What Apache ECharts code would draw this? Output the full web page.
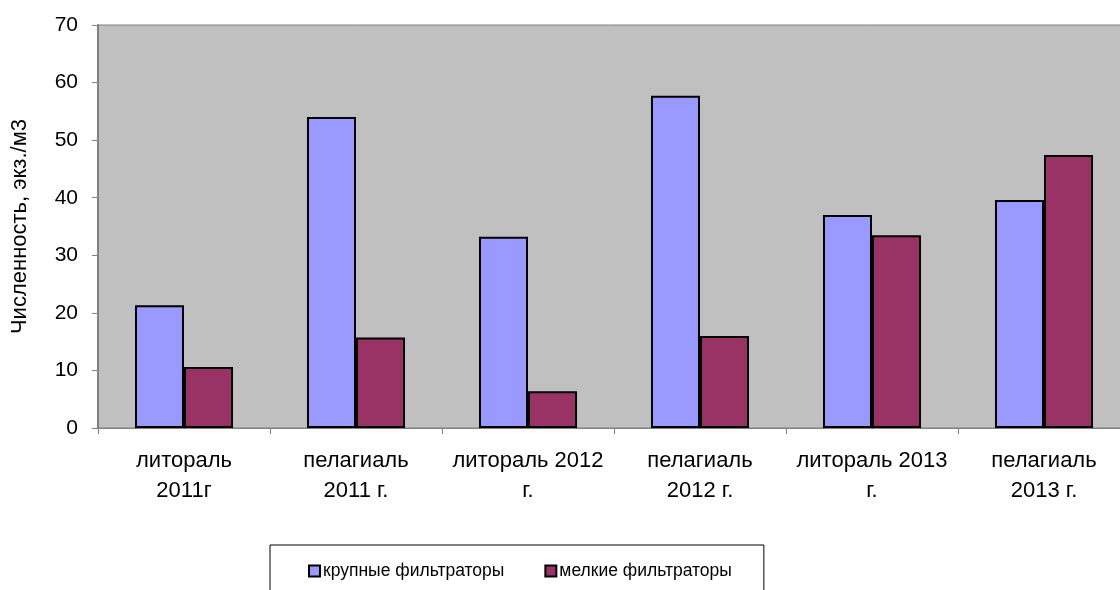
<!DOCTYPE html>
<html>
<head>
<meta charset="utf-8">
<script src="https://cdn.jsdelivr.net/npm/echarts@6/dist/echarts.min.js"></script>
<style>
  html, body { margin: 0; padding: 0; background: #fff; }
  #main { width: 1120px; height: 590px; }
</style>
</head>
<body>
<div id="main"></div>
<script>
// categories and values
var categories = ['литораль\n2011г', 'пелагиаль\n2011 г.', 'литораль 2012\nг.', 'пелагиаль\n2012 г.', 'литораль 2013\nг.', 'пелагиаль\n2013 г.'];
var largeFilter = [21.3, 54.0, 33.2, 57.7, 37.0, 39.6];
var smallFilter = [10.6, 15.7, 6.4, 16.0, 33.5, 47.4];
var seriesNames = ['крупные фильтраторы', 'мелкие фильтраторы'];

var chart = echarts.init(document.getElementById('main'));
var font = 'Liberation Sans, Arial, sans-serif';

var option = {
  animation: false,
  textStyle: { fontFamily: font },
  grid: {
    left: 98, top: 25, width: 1032, height: 403,
    containLabel: false, outerBoundsMode: 'none',
    show: true, backgroundColor: '#c0c0c0', borderColor: '#808080', borderWidth: 1
  },
  legend: {
    data: seriesNames,
    left: 270, top: 545,
    padding: [17, 32, 30, 38],
    itemGap: 40,
    icon: 'rect',
    itemWidth: 11, itemHeight: 11,
    itemStyle: { borderColor: '#000', borderWidth: 2 },
    borderColor: '#000', borderWidth: 1,
    textStyle: { fontSize: 17.5, color: '#000', fontFamily: font, padding: [0, 0, 0, -2] }
  },
  xAxis: {
    type: 'category',
    data: categories,
    axisLine: { lineStyle: { color: '#808080', width: 1 } },
    axisTick: { show: true, length: 6, lineStyle: { color: '#808080' } },
    axisLabel: { fontSize: 22, color: '#000', margin: 18, lineHeight: 30, fontFamily: font, interval: 0 },
    splitLine: { show: false }
  },
  yAxis: {
    type: 'value',
    min: 0, max: 70, interval: 10,
    name: 'Численность, экз./м3',
    nameLocation: 'middle',
    nameGap: 67,
    nameTextStyle: { fontSize: 22, color: '#000', fontFamily: font },
    axisLine: { show: true, lineStyle: { color: '#808080', width: 2 } },
    axisTick: { show: true, length: 6, lineStyle: { color: '#808080' } },
    axisLabel: { fontSize: 21, color: '#000', margin: 20, fontFamily: font },
    splitLine: { show: false }
  },
  series: [
    {
      name: seriesNames[0], type: 'bar', data: largeFilter,
      barWidth: '28.5%', barGap: '0%',
      itemStyle: { color: '#9999ff', borderColor: '#000', borderWidth: 2 }
    },
    {
      name: seriesNames[1], type: 'bar', data: smallFilter,
      barWidth: '28.5%', barGap: '0%',
      itemStyle: { color: '#993366', borderColor: '#000', borderWidth: 2 }
    }
  ]
};
chart.setOption(option);
</script>
</body>
</html>
